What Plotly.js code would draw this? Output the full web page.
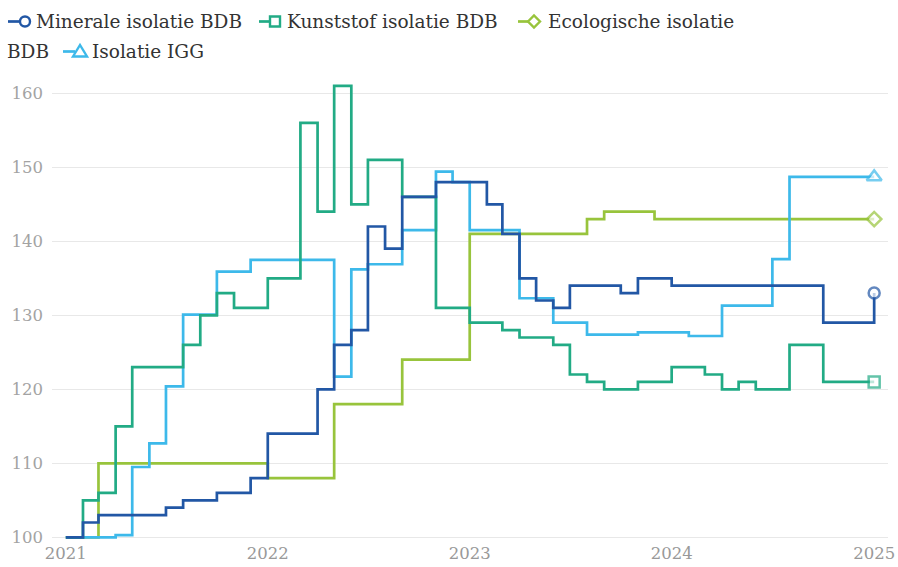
<!DOCTYPE html>
<html>
<head>
<meta charset="utf-8">
<script src="https://cdn.plot.ly/plotly-3.0.1.min.js"></script>
<style>
html,body{margin:0;padding:0;background:#fff;}
#chart{width:898px;height:567px;}
</style>
</head>
<body>
<div id="chart"></div>
<script>
// ---- Data ----
const months = [
 "2021-01","2021-02","2021-03","2021-04","2021-05","2021-06","2021-07","2021-08","2021-09","2021-10","2021-11","2021-12",
 "2022-01","2022-02","2022-03","2022-04","2022-05","2022-06","2022-07","2022-08","2022-09","2022-10","2022-11","2022-12",
 "2023-01","2023-02","2023-03","2023-04","2023-05","2023-06","2023-07","2023-08","2023-09","2023-10","2023-11","2023-12",
 "2024-01","2024-02","2024-03","2024-04","2024-05","2024-06","2024-07","2024-08","2024-09","2024-10","2024-11","2024-12",
 "2025-01"
];
const mineraleBDB = [
 100,102,103,103,103,103,104,105,105,106,106,108,
 114,114,114,120,126,128,142,139,146,146,148,148,
 148,145,141,135,132,131,134,134,134,133,135,135,
 134,134,134,134,134,134,134,134,134,129,129,129,
 133
];
const kunststofBDB = [
 100,105,106,115,123,123,123,126,130,133,131,131,
 135,135,156,144,161,145,151,151,146,146,131,131,
 129,129,128,127,127,126,122,121,120,120,121,121,
 123,123,122,120,121,120,120,126,126,121,121,121,
 121
];
const ecologischeBDB = [
 100,100,110,110,110,110,110,110,110,110,110,110,
 108,108,108,108,118,118,118,118,124,124,124,124,
 141,141,141,141,141,141,141,143,144,144,144,143,
 143,143,143,143,143,143,143,143,143,143,143,143,
 143
];
const isolatieIGG = [
 100,100,100,100.3,109.5,112.7,120.4,130.1,130.1,135.9,135.9,137.5,
 137.5,137.5,137.5,137.5,121.7,136.2,136.9,136.9,141.5,141.5,149.4,148,
 141.5,141.5,141.5,132.3,132.3,129,129,127.4,127.4,127.4,127.7,127.7,
 127.7,127.2,127.2,131.3,131.3,131.3,137.6,148.7,148.7,148.7,148.7,148.7,
 148.7
];
const seriesNames = ["Minerale isolatie BDB","Kunststof isolatie BDB","Ecologische isolatie BDB","Isolatie IGG"];
const yTicks = [100,110,120,130,140,150,160];
const xTicks = ["2021-01-01","2022-01-01","2023-01-01","2024-01-01","2025-01-01"];
const xTickLabels = ["2021","2022","2023","2024","2025"];

// ---- Styling ----
const colors = ["#2257a5","#22ab85","#98c43c","#3db9ea"];
const symbols = ["circle","square","diamond","triangle-up"];
const seriesData = [mineraleBDB, kunststofBDB, ecologischeBDB, isolatieIGG];
const FONT = "DejaVu Serif, Liberation Serif, serif";

const W=898, H=567, ML=52, MR=10, MT=77, MB=26;
const pw = W-ML-MR, ph = H-MT-MB;
const fx = p => (p-ML)/pw;
const fy = p => (H-MB-p)/ph;

// draw order: ecologisch, IGG, kunststof, minerale (minerale on top)
const order = [2,3,1,0];
const traces = order.map(i => {
  const vals = seriesData[i];
  return {
    type: "scatter",
    mode: "lines+markers",
    name: seriesNames[i],
    x: months,
    y: vals,
    line: {shape: "hv", color: colors[i], width: 2.7},
    marker: {
      symbol: symbols[i],
      size: vals.map((v,k) => k === vals.length-1 ? (i===3 ? 13 : 11) : 0),
      color: "#ffffff",
      line: {width: 2.5, color: colors[i]}
    },
    cliponaxis: false,
    hoverinfo: "x+y+name"
  };
});

// ---- manual legend (wrapping like the original) ----
const shapes = [];
const annotations = [];
function legLine(x0, x1, y, c){
  shapes.push({type:"line", xref:"paper", yref:"paper", x0:fx(x0), x1:fx(x1), y0:fy(y), y1:fy(y), line:{color:c, width:2.7}});
}
function legText(x, y, t){
  annotations.push({xref:"paper", yref:"paper", x:fx(x), y:fy(y), xanchor:"left", yanchor:"middle",
    text:t, showarrow:false, font:{family:FONT, size:18.5, color:"#333"}, borderpad:0});
}
// item 1: circle
legLine(8, 20, 21.5, colors[0]);
shapes.push({type:"circle", xref:"paper", yref:"paper", x0:fx(20), x1:fx(30), y0:fy(26.5), y1:fy(16.5),
  line:{color:colors[0], width:2.4}, fillcolor:"#fff"});
legText(35, 21.5, seriesNames[0]);
// item 2: square
legLine(259, 270, 21.5, colors[1]);
shapes.push({type:"rect", xref:"paper", yref:"paper", x0:fx(270), x1:fx(280), y0:fy(26.5), y1:fy(16.5),
  line:{color:colors[1], width:2.4}, fillcolor:"#fff"});
legText(286, 21.5, seriesNames[1]);
// item 3: diamond
legLine(518, 529, 21.5, colors[2]);
shapes.push({type:"path", xref:"paper", yref:"paper",
  path:`M ${fx(528)} ${fy(21.5)} L ${fx(534)} ${fy(15.5)} L ${fx(540)} ${fy(21.5)} L ${fx(534)} ${fy(27.5)} Z`,
  line:{color:colors[2], width:2.4}, fillcolor:"#fff"});
legText(547, 21.5, "Ecologische isolatie");
legText(6, 51.5, "BDB");
// item 4: triangle
legLine(63, 75, 51.5, colors[3]);
shapes.push({type:"path", xref:"paper", yref:"paper",
  path:`M ${fx(73)} ${fy(56.5)} L ${fx(80)} ${fy(45)} L ${fx(87)} ${fy(56.5)} Z`,
  line:{color:colors[3], width:2.4}, fillcolor:"#fff"});
legText(91, 51.5, seriesNames[3]);

const layout = {
  width: W, height: H,
  margin: {l: ML, r: MR, t: MT, b: MB, pad: 0},
  paper_bgcolor: "#fff",
  plot_bgcolor: "#fff",
  showlegend: false,
  font: {family: FONT, size: 16.5, color: "#9a9a9a"},
  xaxis: {
    type: "date",
    range: ["2020-12-07","2025-01-26"],
    tickmode: "array",
    tickvals: xTicks,
    ticktext: xTickLabels,
    showgrid: false,
    zeroline: false,
    showline: false,
    ticks: "",
    tickfont: {family: FONT, size: 16.5, color: "#999"},
    fixedrange: true
  },
  yaxis: {
    range: [99.5, 162.2],
    tickmode: "array",
    tickvals: yTicks,
    showgrid: true,
    gridcolor: "#e8e8e8",
    gridwidth: 1,
    zeroline: false,
    showline: false,
    ticks: "",
    ticklabelstandoff: 8,
    tickfont: {family: FONT, size: 16.5, color: "#a3a3a3"},
    fixedrange: true
  },
  shapes: shapes,
  annotations: annotations
};

Plotly.newPlot("chart", traces, layout, {displayModeBar: false, staticPlot: true});
</script>
</body>
</html>
